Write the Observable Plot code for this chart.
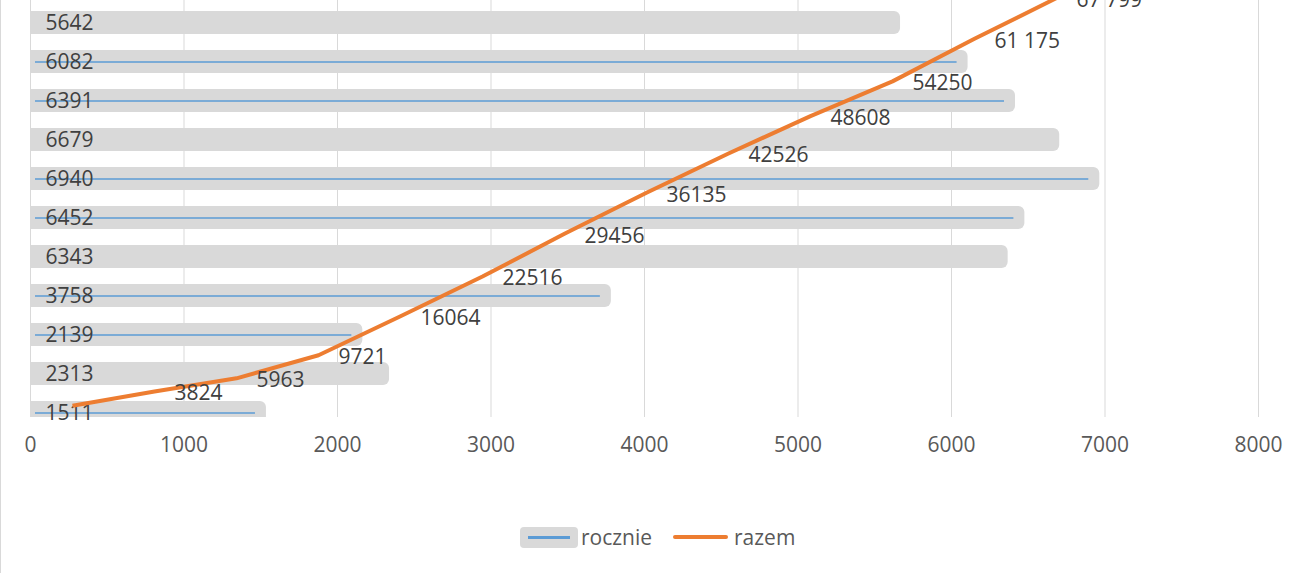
<!DOCTYPE html>
<html>
<head>
<meta charset="utf-8">
<script src="https://cdn.jsdelivr.net/npm/d3@7"></script>
<script src="https://cdn.jsdelivr.net/npm/@observablehq/plot@0.6"></script>
<style>
  html, body { margin: 0; padding: 0; background: #fff; }
  #chart { position: relative; width: 1298px; height: 573px; overflow: hidden; font-family: "Open Sans", sans-serif; }
  #chart svg { position: absolute; left: 0; top: -200px; overflow: visible; }
  #border { position: absolute; left: 0; top: 0; width: 1px; height: 573px; background: #d9d9d9; }
  .lg { position: absolute; }
  .txt { font-size: 21px; line-height: 24px; color: #595959; top: 525px; }
</style>
</head>
<body>
<div id="chart">
  <div id="border"></div>
  <div id="legend">
    <div class="lg" style="left:520px;top:527px;width:58px;height:21px;background:#d9d9d9;border-radius:4px;">
      <div class="lg" style="left:8px;top:9px;width:42px;height:2.5px;background:#5b9bd5;"></div>
    </div>
    <div class="lg txt" style="left:581px;">rocznie</div>
    <div class="lg" style="left:673px;top:535px;width:55px;height:4px;background:#ed7d31;border-radius:2px;"></div>
    <div class="lg txt" style="left:734px;">razem</div>
  </div>
</div>
<script>
// categories (bottom to top), 15 slots; the top ones are cropped out of view
const slots = ["1","2","3","4","5","6","7","8","9","10","11","12","13","14","15"];
// yearly values (grey bars) that are visible
const rocznie = [1511, 2313, 2139, 3758, 6343, 6452, 6940, 6679, 6391, 6082, 5642];
// thin blue line drawn inside some of the bars (null = none)
const rocznieLinia = [1511, null, 2139, 3758, null, 6452, 6940, null, 6391, 6082, null];
// cumulative values (orange line)
const razem = [1511, 3824, 5963, 9721, 16064, 22516, 29456, 36135, 42526, 48608, 54250, 61175, 67799];
const razemLabels = ["", "3824", "5963", "9721", "16064", "22516", "29456", "36135", "42526", "48608", "54250", "61 175", "67 799"];
// x axis ticks
const xTicks = [0, 1000, 2000, 3000, 4000, 5000, 6000, 7000, 8000];

const bars = rocznie.map((v, i) => ({slot: slots[i], v}));
const blue = rocznieLinia.map((v, i) => ({slot: slots[i], v})).filter(d => d.v != null);
const cum = razem.map((v, i) => ({slot: slots[i], v, label: razemLabels[i]}));

const W = 1298, H = 700, ML = 30, MR = 40, MT = 0, MB = 83;
const font = {fontFamily: "'Open Sans', sans-serif", fontSize: "21px", background: "transparent"};

const p1 = Plot.plot({
  width: W, height: H,
  marginLeft: ML, marginRight: MR, marginTop: MT, marginBottom: MB,
  style: {...font, color: "#595959"},
  x: {domain: [0, 8000], ticks: xTicks, tickFormat: "d", tickSize: 0, tickPadding: 20, label: null},
  y: {type: "band", domain: slots.slice().reverse(), range: [45.6, 633.6], paddingInner: 0.41, paddingOuter: 0.205, align: 0.5, axis: null},
  marks: [
    Plot.ruleX(xTicks, {x: d => d, stroke: "#d9d9d9", strokeWidth: 1}),
    Plot.barX(bars, {x: "v", y: "slot", fill: "#d9d9d9", rx: 6, insetLeft: -8, insetRight: -4, clip: true}),
    Plot.ruleY(blue, {y: "slot", x1: 0, x2: "v", insetLeft: 5, insetRight: 7, stroke: "#5b9bd5", strokeWidth: 1.3}),
    Plot.text(bars, {y: "slot", text: d => String(d.v), frameAnchor: "left", dx: 15, textAnchor: "start", fill: "#404040", fontSize: 21})
  ]
});

const p2 = Plot.plot({
  width: W, height: H,
  marginLeft: ML, marginRight: MR, marginTop: MT, marginBottom: MB,
  style: font,
  x: {type: "point", domain: slots, range: [27, 1264], padding: 0.5, align: 0.5, axis: null},
  y: {type: "linear", domain: [0, 100000], range: [614.5, -0.5], axis: null},
  marks: [
    Plot.line(cum, {x: "slot", y: "v", stroke: "#ed7d31", strokeWidth: 4, strokeLinejoin: "round", strokeLinecap: "butt"}),
    Plot.text(cum, {x: "slot", y: "v", text: "label", dx: 20, dy: 2, textAnchor: "start", fill: "#404040", fontSize: 21})
  ]
});

const chart = document.getElementById("chart");
chart.appendChild(p1);
chart.appendChild(p2);
</script>
</body>
</html>
